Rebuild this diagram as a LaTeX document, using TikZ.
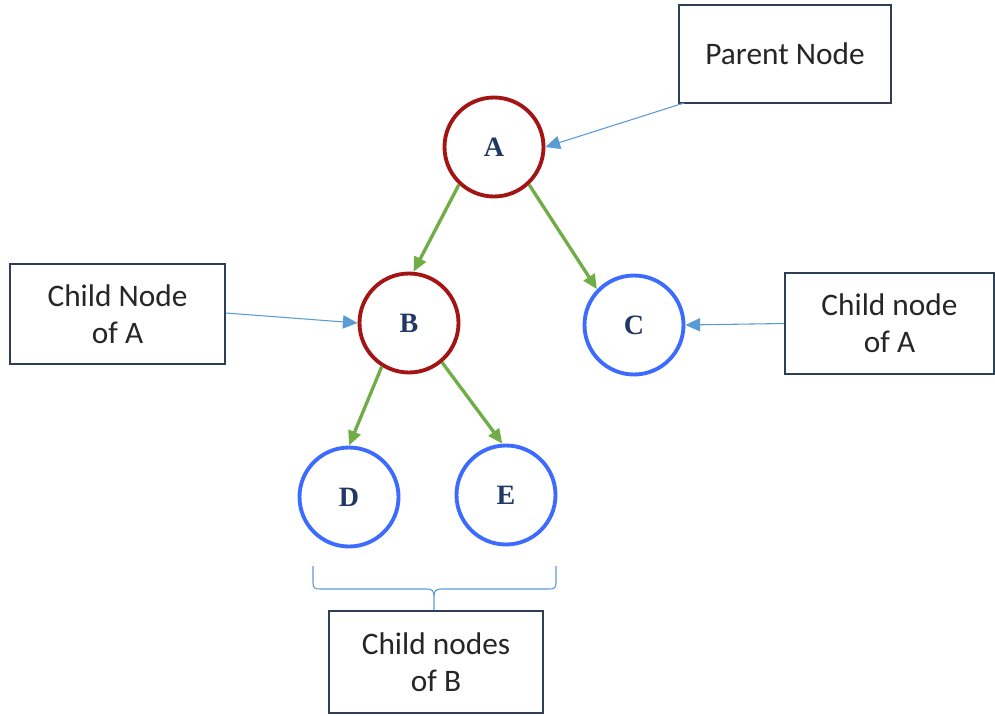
\documentclass[tikz,border=0pt]{standalone}
\usepackage{fontspec}
\setmainfont{Carlito}
\newfontfamily\letterfont{Liberation Serif}
\usetikzlibrary{arrows.meta}
\definecolor{treered}{HTML}{A31515}
\definecolor{treeblue}{HTML}{3D6BFF}
\definecolor{treegreen}{HTML}{70AD47}
\definecolor{calloutblue}{HTML}{5B9BD5}
\definecolor{boxedge}{HTML}{2E3F55}
\definecolor{letterblue}{HTML}{1F3864}
\newlength{\pxu}
\setlength{\pxu}{0.75pt}
\tikzset{
  parentcirc/.style={circle, draw=treered, line width=2.9pt, minimum size=99\pxu, inner sep=0pt,
    font=\letterfont\bfseries\fontsize{21}{24}\selectfont, text=letterblue},
  leafcirc/.style={parentcirc, draw=treeblue},
  labelbox/.style={draw=boxedge, line width=1.3pt, align=center, inner sep=0pt,
    font=\fontsize{23.5}{28}\selectfont, text=black!85},
  treeedge/.style={draw=treegreen, line width=2.5pt, -{Triangle[length=11pt,width=9.5pt]}},
  callout/.style={draw=calloutblue, line width=0.8pt, -{Triangle[length=11pt,width=10pt]}},
}
\begin{document}
\begin{tikzpicture}[x=0.75pt, y=-0.75pt]
\useasboundingbox (0,0) rectangle (995,715);

% tree nodes
\node[parentcirc] (A) at (494,147) {A};
\node[parentcirc] (B) at (409,323) {B};
\node[leafcirc]   (C) at (634,325) {C};
\node[leafcirc]   (D) at (349,497) {D};
\node[leafcirc]   (E) at (506,495) {E};

% label boxes
\node[labelbox, minimum width=212\pxu, minimum height=98\pxu] (parent) at (785,54) {Parent Node};
\node[labelbox, minimum width=215\pxu, minimum height=100\pxu] (childA1) at (117.5,314) {Child Node\\of A};
\node[labelbox, minimum width=209\pxu, minimum height=101\pxu] (childA2) at (889.5,323.5) {Child node\\of A};
\node[labelbox, minimum width=214\pxu, minimum height=102\pxu] (childB) at (436,662) {Child nodes\\of B};

% parent-child edges
\draw[treeedge] (A.227) -- (B.85);
\draw[treeedge] (A.313) -- (C.136);
\draw[treeedge] (B.238) -- (D.90);
\draw[treeedge] (B.310) -- (E.94);

% callout arrows
\coordinate (pfoot) at (684,103);
\draw[callout] (pfoot) -- (A.east);
\draw[callout] (childA1.east |- 0,313) -- (B.west);
\draw[callout] (childA2.west) -- (C.east);

% brace under D and E
\coordinate (bl) at (313,566);
\coordinate (br) at (556,566);
\coordinate (bt) at (434,610);
\draw[calloutblue, line width=0.8pt]
  (bl) -- (313,583) .. controls (313,588) and (315,589) .. (320,589)
  -- (427,589) .. controls (432,589) and (434,591) .. (434,596) -- (bt);
\draw[calloutblue, line width=0.8pt]
  (br) -- (556,583) .. controls (556,588) and (554,589) .. (549,589)
  -- (441,589) .. controls (436,589) and (434,591) .. (434,596);
\end{tikzpicture}
\end{document}
